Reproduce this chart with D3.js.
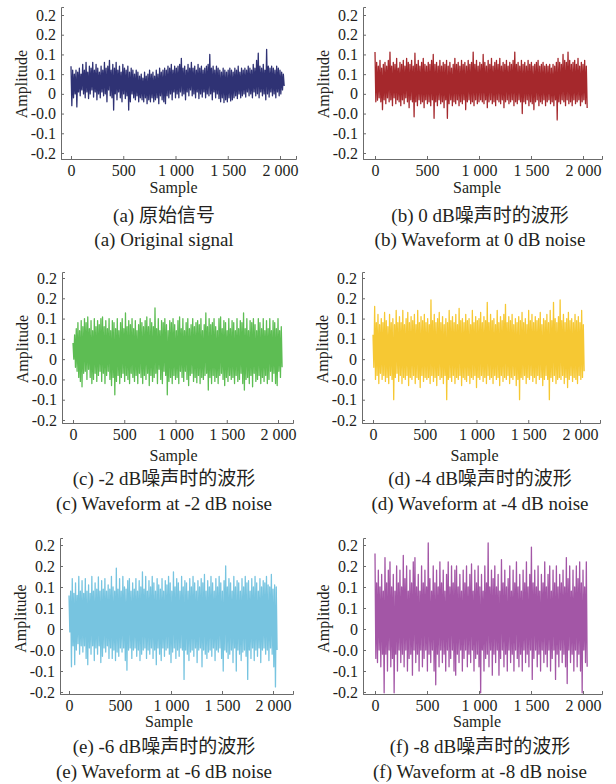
<!DOCTYPE html>
<html>
<head>
<meta charset="utf-8">
<script src="https://cdn.jsdelivr.net/npm/d3@7/dist/d3.min.js"></script>
<style>
  body { margin: 0; background: #fff; }
  .axis path, .axis line { stroke: #6b6b6b; stroke-width: 1; }
</style>
</head>
<body>
<div id="chart"></div>
<script>
// one value every 8 samples
var sampleStep = 8;

var sigOriginal = [
  0.07,-0.03,0.06,-0.01,0.05,0.0,0.06,-0.033,0.055,0.005,0.065,-0.005,0.05,0.01,0.075,0.0,
  0.06,-0.01,0.08,0.005,0.055,-0.012,0.07,0.0,0.065,0.01,0.08,-0.008,0.06,0.005,0.075,-0.015,
  0.065,0.0,0.055,-0.01,0.07,0.005,0.06,-0.005,0.08,0.0,0.065,-0.02,0.07,0.01,0.085,-0.005,
  0.06,-0.01,0.075,-0.041,0.065,0.0,0.08,-0.015,0.06,0.005,0.07,-0.01,0.055,-0.02,0.075,0.0,
  0.065,-0.012,0.06,-0.005,0.07,-0.041,0.055,-0.02,0.065,0.0,0.06,-0.01,0.05,-0.015,0.06,-0.005,
  0.055,-0.02,0.045,-0.01,0.05,-0.015,0.04,-0.02,0.055,-0.01,0.045,-0.025,0.05,-0.015,0.06,-0.02,
  0.05,-0.01,0.055,-0.02,0.045,-0.015,0.06,-0.01,0.05,-0.025,0.065,-0.005,0.055,-0.015,0.06,-0.02,
  0.065,-0.025,0.06,-0.005,0.07,-0.01,0.065,0.0,0.075,-0.015,0.06,0.005,0.07,-0.01,0.065,0.0,
  0.07,-0.01,0.075,0.005,0.09,-0.005,0.065,0.0,0.07,-0.015,0.06,0.005,0.075,-0.005,0.065,0.01,
  0.08,-0.005,0.065,0.0,0.07,-0.01,0.06,0.005,0.075,-0.012,0.065,0.0,0.07,-0.008,0.06,0.005,
  0.065,-0.01,0.07,0.0,0.075,-0.005,0.1,0.0,0.065,-0.015,0.07,0.005,0.06,-0.01,0.07,0.0,
  0.065,-0.012,0.06,-0.02,0.055,-0.01,0.065,-0.022,0.06,-0.015,0.055,-0.02,0.06,-0.01,0.065,-0.018,
  0.06,-0.015,0.055,-0.01,0.065,-0.005,0.06,-0.012,0.07,0.0,0.055,-0.01,0.065,-0.005,0.06,0.0,
  0.065,-0.008,0.06,0.005,0.07,-0.005,0.065,0.0,0.06,-0.01,0.075,0.005,0.065,-0.005,0.085,0.0,
  0.103,-0.01,0.07,0.005,0.065,-0.005,0.075,0.0,0.06,-0.015,0.113,0.0,0.07,-0.008,0.065,0.005,
  0.07,-0.005,0.065,0.0,0.06,-0.01,0.07,0.005,0.065,-0.005,0.06,0.0,0.055,0.01,0.05,0.02
];

var sig0dB = [
  0.106,-0.02,0.08,-0.016,0.07,-0.01,0.085,-0.02,0.065,-0.04,0.075,-0.015,0.08,-0.025,0.07,-0.01,
  0.085,-0.02,0.106,-0.015,0.07,-0.03,0.08,-0.01,0.075,-0.025,0.09,-0.015,0.065,-0.02,0.08,-0.03,
  0.075,-0.015,0.085,-0.025,0.07,-0.01,0.09,-0.02,0.08,-0.035,0.075,-0.015,0.085,-0.02,0.07,-0.058,
  0.103,-0.02,0.075,-0.03,0.085,-0.015,0.07,-0.025,0.08,-0.02,0.09,-0.035,0.075,-0.015,0.07,-0.025,
  0.08,-0.02,0.075,-0.03,0.085,-0.015,0.1,-0.062,0.075,-0.02,0.08,-0.03,0.07,-0.015,0.085,-0.025,
  0.07,-0.02,0.08,-0.035,0.075,-0.015,0.085,-0.062,0.07,-0.025,0.08,-0.015,0.065,-0.03,0.075,-0.02,
  0.09,-0.025,0.075,-0.015,0.08,-0.03,0.07,-0.02,0.085,-0.025,0.075,-0.015,0.08,-0.04,0.07,-0.02,
  0.085,-0.015,0.075,-0.025,0.08,-0.02,0.106,-0.03,0.075,-0.015,0.085,-0.025,0.07,-0.02,0.08,-0.015,
  0.075,-0.02,0.1,-0.025,0.08,-0.015,0.07,-0.035,0.085,-0.02,0.075,-0.015,0.09,-0.025,0.07,-0.02,
  0.08,-0.03,0.085,-0.015,0.075,-0.02,0.09,-0.025,0.07,-0.015,0.08,-0.035,0.075,-0.02,0.085,-0.015,
  0.07,-0.025,0.08,-0.02,0.075,-0.015,0.085,-0.03,0.106,-0.02,0.075,-0.025,0.08,-0.015,0.07,-0.02,
  0.085,-0.05,0.075,-0.02,0.08,-0.025,0.07,-0.015,0.085,-0.03,0.075,-0.02,0.08,-0.025,0.07,-0.04,
  0.075,-0.02,0.08,-0.015,0.085,-0.03,0.07,-0.02,0.075,-0.025,0.08,-0.015,0.07,-0.03,0.075,-0.02,
  0.07,-0.015,0.075,-0.025,0.065,-0.02,0.075,-0.03,0.07,-0.015,0.08,-0.066,0.09,-0.02,0.08,-0.025,
  0.075,-0.015,0.1,-0.02,0.085,-0.03,0.08,-0.015,0.106,-0.025,0.085,-0.02,0.075,-0.03,0.08,-0.015,
  0.085,-0.025,0.075,-0.02,0.09,-0.015,0.07,-0.03,0.08,-0.02,0.075,-0.015,0.085,-0.025,0.07,-0.036
];

var sigM2dB = [
  0.04,0.0,0.06,-0.02,0.075,-0.03,0.09,-0.045,0.07,-0.055,0.095,-0.068,0.08,-0.035,0.1,-0.03,
  0.09,-0.05,0.104,-0.025,0.075,-0.045,0.095,-0.06,0.07,-0.05,0.1,-0.035,0.08,-0.055,0.095,-0.04,
  0.085,-0.03,0.1,-0.055,0.104,-0.035,0.08,-0.06,0.095,-0.04,0.075,-0.03,0.1,-0.05,0.07,-0.065,
  0.095,-0.045,0.09,-0.088,0.075,-0.055,0.1,-0.04,0.07,-0.06,0.09,-0.045,0.1,-0.035,0.075,-0.055,
  0.114,-0.04,0.08,-0.05,0.095,-0.06,0.085,-0.035,0.1,-0.045,0.075,-0.055,0.095,-0.04,0.07,-0.06,
  0.085,-0.035,0.1,-0.045,0.09,-0.06,0.08,-0.04,0.095,-0.05,0.104,-0.035,0.08,-0.065,0.1,-0.04,
  0.09,-0.055,0.08,-0.045,0.126,-0.035,0.075,-0.06,0.1,-0.025,0.07,-0.05,0.095,-0.06,0.09,-0.03,
  0.1,-0.04,0.085,-0.088,0.07,-0.055,0.095,-0.045,0.09,-0.06,0.1,-0.04,0.085,-0.05,0.07,-0.045,
  0.095,-0.06,0.104,-0.03,0.075,-0.045,0.1,-0.055,0.07,-0.03,0.09,-0.05,0.1,-0.065,0.075,-0.04,
  0.085,-0.035,0.1,-0.055,0.08,-0.045,0.09,-0.058,0.095,-0.04,0.085,-0.06,0.1,-0.045,0.07,-0.05,
  0.085,-0.04,0.114,-0.035,0.08,-0.076,0.1,-0.045,0.085,-0.06,0.09,-0.04,0.1,-0.055,0.08,-0.045,
  0.07,-0.06,0.1,-0.04,0.104,-0.035,0.075,-0.05,0.095,-0.065,0.09,-0.045,0.07,-0.055,0.1,-0.04,
  0.075,-0.05,0.095,-0.045,0.09,-0.06,0.07,-0.04,0.1,-0.055,0.075,-0.05,0.095,-0.035,0.09,-0.06,
  0.114,-0.076,0.075,-0.05,0.1,-0.045,0.07,-0.06,0.095,-0.04,0.09,-0.068,0.1,-0.035,0.085,-0.055,
  0.07,-0.05,0.1,-0.04,0.09,-0.06,0.075,-0.045,0.1,-0.055,0.07,-0.04,0.095,-0.06,0.075,-0.05,
  0.1,-0.03,0.07,-0.055,0.095,-0.035,0.09,-0.06,0.075,-0.065,0.1,-0.03,0.07,-0.045,0.08,-0.02
];

var sigM4dB = [
  0.06,-0.02,0.13,-0.05,0.09,-0.04,0.11,-0.06,0.085,-0.035,0.1,-0.05,0.09,-0.04,0.115,-0.055,
  0.095,-0.045,0.08,-0.06,0.11,-0.04,0.09,-0.05,0.1,-0.1,0.085,-0.045,0.12,-0.035,0.09,-0.055,
  0.105,-0.04,0.09,-0.06,0.12,-0.045,0.085,-0.05,0.1,-0.04,0.115,-0.065,0.09,-0.045,0.105,-0.05,
  0.095,-0.04,0.11,-0.06,0.085,-0.045,0.12,-0.05,0.09,-0.07,0.105,-0.04,0.095,-0.055,0.11,-0.045,
  0.09,-0.05,0.1,-0.045,0.085,-0.06,0.146,-0.04,0.095,-0.055,0.11,-0.045,0.09,-0.065,0.1,-0.04,
  0.115,-0.05,0.09,-0.045,0.105,-0.06,0.085,-0.04,0.1,-0.1,0.09,-0.05,0.12,-0.045,0.095,-0.055,
  0.105,-0.04,0.09,-0.06,0.11,-0.045,0.085,-0.05,0.125,-0.04,0.095,-0.065,0.1,-0.045,0.09,-0.05,
  0.11,-0.055,0.095,-0.04,0.1,-0.06,0.085,-0.045,0.12,-0.05,0.09,-0.04,0.105,-0.07,0.095,-0.045,
  0.1,-0.05,0.115,-0.04,0.09,-0.055,0.105,-0.045,0.095,-0.06,0.14,-0.04,0.09,-0.05,0.11,-0.045,
  0.095,-0.06,0.1,-0.04,0.085,-0.05,0.12,-0.045,0.09,-0.065,0.105,-0.04,0.095,-0.055,0.11,-0.045,
  0.135,-0.05,0.09,-0.04,0.105,-0.06,0.095,-0.045,0.11,-0.05,0.085,-0.04,0.1,-0.065,0.09,-0.05,
  0.105,-0.1,0.095,-0.045,0.115,-0.05,0.09,-0.04,0.1,-0.06,0.085,-0.045,0.12,-0.05,0.095,-0.04,
  0.11,-0.055,0.09,-0.045,0.105,-0.06,0.095,-0.04,0.1,-0.05,0.115,-0.045,0.085,-0.065,0.1,-0.05,
  0.095,-0.04,0.11,-0.05,0.09,-0.1,0.12,-0.045,0.095,-0.055,0.14,-0.04,0.1,-0.06,0.09,-0.05,
  0.105,-0.045,0.146,-0.05,0.095,-0.04,0.11,-0.06,0.09,-0.045,0.1,-0.07,0.115,-0.05,0.095,-0.04,
  0.1,-0.055,0.09,-0.045,0.11,-0.05,0.095,-0.06,0.105,-0.04,0.09,-0.05,0.12,-0.045,0.085,-0.03
];

var sigM6dB = [
  0.08,-0.007,0.09,-0.09,0.12,-0.04,0.085,-0.085,0.11,-0.05,0.08,-0.035,0.125,-0.06,0.09,-0.04,
  0.115,-0.055,0.085,-0.04,0.12,-0.07,0.09,-0.085,0.105,-0.045,0.085,-0.06,0.125,-0.04,0.09,-0.075,
  0.11,-0.045,0.095,-0.06,0.124,-0.04,0.09,-0.08,0.115,-0.065,0.095,-0.045,0.12,-0.055,0.09,-0.04,
  0.105,-0.07,0.095,-0.045,0.125,-0.07,0.1,-0.05,0.09,-0.075,0.145,-0.055,0.095,-0.065,0.12,-0.045,
  0.09,-0.055,0.125,-0.045,0.1,-0.075,0.095,-0.098,0.115,-0.05,0.12,-0.045,0.09,-0.07,0.11,-0.05,
  0.095,-0.045,0.12,-0.065,0.09,-0.05,0.115,-0.075,0.1,-0.06,0.136,-0.05,0.095,-0.045,0.125,-0.07,
  0.09,-0.05,0.115,-0.06,0.1,-0.045,0.125,-0.07,0.11,-0.05,0.09,-0.085,0.12,-0.045,0.105,-0.06,
  0.095,-0.075,0.12,-0.045,0.09,-0.065,0.115,-0.05,0.105,-0.045,0.125,-0.06,0.11,-0.08,0.09,-0.055,
  0.136,-0.045,0.1,-0.07,0.12,-0.05,0.11,-0.065,0.09,-0.045,0.125,-0.05,0.1,-0.12,0.115,-0.05,
  0.11,-0.06,0.09,-0.075,0.12,-0.055,0.1,-0.05,0.125,-0.065,0.11,-0.045,0.09,-0.08,0.115,-0.05,
  0.1,-0.045,0.12,-0.09,0.11,-0.05,0.13,-0.06,0.09,-0.07,0.115,-0.055,0.1,-0.05,0.125,-0.065,
  0.11,-0.045,0.09,-0.075,0.12,-0.05,0.1,-0.055,0.125,-0.045,0.11,-0.07,0.09,-0.1,0.115,-0.05,
  0.15,-0.055,0.1,-0.07,0.12,-0.06,0.11,-0.05,0.09,-0.08,0.125,-0.045,0.1,-0.1,0.115,-0.05,
  0.11,-0.06,0.09,-0.075,0.12,-0.055,0.1,-0.05,0.125,-0.065,0.11,-0.12,0.115,-0.05,0.09,-0.07,
  0.12,-0.045,0.1,-0.075,0.125,-0.05,0.11,-0.065,0.09,-0.045,0.12,-0.08,0.1,-0.05,0.115,-0.045,
  0.11,-0.06,0.125,-0.05,0.105,-0.075,0.1,-0.045,0.13,-0.06,0.095,-0.09,0.105,-0.138,0.1,-0.05
];

var sigM8dB = [
  0.18,-0.07,0.11,-0.08,0.14,-0.05,0.1,-0.09,0.13,-0.06,0.09,-0.152,0.17,-0.06,0.11,-0.1,
  0.14,-0.05,0.16,-0.09,0.1,-0.07,0.13,-0.152,0.09,-0.06,0.15,-0.1,0.11,-0.05,0.14,-0.08,
  0.1,-0.06,0.175,-0.09,0.12,-0.05,0.15,-0.1,0.09,-0.07,0.14,-0.06,0.11,-0.11,0.16,-0.05,
  0.17,-0.08,0.1,-0.06,0.13,-0.1,0.09,-0.05,0.15,-0.09,0.11,-0.07,0.14,-0.05,0.1,-0.1,
  0.205,-0.06,0.12,-0.08,0.09,-0.05,0.15,-0.1,0.11,-0.133,0.14,-0.06,0.1,-0.09,0.16,-0.05,
  0.11,-0.08,0.14,-0.06,0.09,-0.1,0.13,-0.05,0.16,-0.09,0.1,-0.07,0.15,-0.05,0.11,-0.1,
  0.14,-0.11,0.15,-0.06,0.1,-0.08,0.13,-0.05,0.09,-0.1,0.14,-0.07,0.11,-0.05,0.15,-0.09,
  0.1,-0.06,0.13,-0.08,0.155,-0.05,0.09,-0.1,0.14,-0.07,0.11,-0.06,0.15,-0.09,0.1,-0.152,
  0.13,-0.05,0.09,-0.1,0.15,-0.07,0.11,-0.06,0.205,-0.09,0.1,-0.05,0.14,-0.11,0.12,-0.06,
  0.15,-0.08,0.1,-0.05,0.13,-0.11,0.09,-0.07,0.165,-0.05,0.11,-0.09,0.14,-0.06,0.1,-0.1,
  0.12,-0.05,0.15,-0.08,0.09,-0.06,0.14,-0.1,0.11,-0.05,0.16,-0.07,0.1,-0.09,0.13,-0.06,
  0.09,-0.1,0.14,-0.05,0.11,-0.08,0.16,-0.06,0.1,-0.09,0.13,-0.05,0.195,-0.12,0.11,-0.07,
  0.14,-0.05,0.1,-0.09,0.15,-0.06,0.09,-0.1,0.13,-0.05,0.11,-0.08,0.16,-0.06,0.1,-0.09,
  0.13,-0.05,0.15,-0.1,0.09,-0.07,0.14,-0.05,0.11,-0.12,0.15,-0.06,0.1,-0.09,0.13,-0.05,
  0.11,-0.08,0.14,-0.06,0.1,-0.09,0.17,-0.13,0.12,-0.05,0.15,-0.08,0.09,-0.06,0.14,-0.1,
  0.1,-0.05,0.15,-0.09,0.12,-0.06,0.16,-0.1,0.11,-0.152,0.14,-0.05,0.1,-0.08,0.16,-0.09
];

var signals = [sigOriginal, sig0dB, sigM2dB, sigM4dB, sigM6dB, sigM8dB];
var lineColors = ["#2f3274", "#a5282c", "#5dbd53", "#f6c833", "#77c4e0", "#a356a6"];

var yTickValues = [0.2, 0.15, 0.1, 0.05, 0, -0.05, -0.1, -0.15];
var yTickLabels = ["0.2", "0.2", "0.1", "0.1", "0", "-0.0", "-0.1", "-0.2"];
var xTickValues = [0, 500, 1000, 1500, 2000];
var xTickLabels = ["0", "500", "1 000", "1 500", "2 000"];

var captionsCn = ["(a) 原始信号", "(b) 0 dB噪声时的波形", "(c) -2 dB噪声时的波形",
                  "(d) -4 dB噪声时的波形", "(e) -6 dB噪声时的波形", "(f) -8 dB噪声时的波形"];
var captionsEn = ["(a) Original signal", "(b) Waveform at 0 dB noise", "(c) Waveform at -2 dB noise",
                  "(d) Waveform at -4 dB noise", "(e) Waveform at -6 dB noise", "(f) Waveform at -8 dB noise"];

var serif = "'Liberation Serif', 'Times New Roman', serif";
var serifCjk = "'Liberation Serif', 'Noto Sans CJK SC', serif";

// page layout (pixels), one entry per panel
var panels = [
  {axisX: 61,  x0: 71,  x2000: 280, right: 296, cap: 164},
  {axisX: 363, x0: 375, x2000: 583, right: 602, cap: 480},
  {axisX: 62,  x0: 73,  x2000: 278, right: 293, cap: 164},
  {axisX: 362, x0: 373, x2000: 580, right: 600, cap: 480},
  {axisX: 60,  x0: 69,  x2000: 273, right: 293, cap: 164},
  {axisX: 363, x0: 375, x2000: 583, right: 602, cap: 480}
];
var rows = [
  {top: 7, yHi: 15, yLo: 153, axisY: 159, sample: 193, cn: 222, en: 246},
  {top: 272, yHi: 278, yLo: 420, axisY: 423, sample: 461, cn: 485, en: 510},
  {top: 538, yHi: 545, yLo: 692, axisY: 694, sample: 727, cn: 753, en: 778}
];

var svg = d3.select("#chart").append("svg")
  .attr("width", 616).attr("height", 784);

signals.forEach(function(sig, k) {
  var row = rows[Math.floor(k / 2)];
  var p = panels[k];

  var x = d3.scaleLinear().domain([0, 2000]).range([p.x0, p.x2000]);
  x.domain([x.invert(p.axisX), x.invert(p.right)]).range([p.axisX, p.right]);

  var y = d3.scaleLinear().domain([-0.15, 0.2]).range([row.yLo, row.yHi]);
  y.domain([y.invert(row.axisY), y.invert(row.top)]).range([row.axisY, row.top]);

  var g = svg.append("g");

  g.append("path")
    .datum(sig)
    .attr("fill", "none")
    .attr("stroke", lineColors[k])
    .attr("stroke-width", 1.3)
    .attr("stroke-linejoin", "round")
    .attr("d", d3.line()
      .x(function(d, i) { return x(i * sampleStep); })
      .y(function(d) { return y(d); }));

  var yAxis = d3.axisLeft(y).tickValues(yTickValues)
    .tickFormat(function(d, i) { return yTickLabels[i]; })
    .tickSizeInner(-3).tickSizeOuter(-3).tickPadding(5);
  g.append("g").attr("class", "axis")
    .attr("transform", "translate(" + p.axisX + ",0)")
    .call(yAxis);

  var xAxis = d3.axisBottom(x).tickValues(xTickValues)
    .tickFormat(function(d, i) { return xTickLabels[i]; })
    .tickSizeInner(-3).tickSizeOuter(-3).tickPadding(6);
  g.append("g").attr("class", "axis")
    .attr("transform", "translate(0," + row.axisY + ")")
    .call(xAxis);

  g.selectAll(".axis").attr("font-family", serif).attr("font-size", 16);
  g.selectAll(".axis text").attr("fill", "#231f20");

  g.append("text").text("Amplitude")
    .attr("transform", "translate(" + (p.axisX - 40) + "," + ((row.yHi + row.yLo) / 2) + ") rotate(-90)")
    .attr("dy", "0.35em")
    .attr("fill", "#231f20")
    .style("font-family", serif)
    .style("text-anchor", "middle").style("font-size", "16px");

  g.append("text").text("Sample")
    .attr("x", x(1000) - 2).attr("y", row.sample)
    .attr("fill", "#231f20")
    .style("font-family", serif)
    .style("text-anchor", "middle").style("font-size", "16px");

  g.append("text").text(captionsCn[k])
    .attr("x", p.cap).attr("y", row.cn)
    .attr("fill", "#231f20")
    .style("font-family", serifCjk)
    .style("text-anchor", "middle").style("font-size", "19px");

  g.append("text").text(captionsEn[k])
    .attr("x", p.cap).attr("y", row.en)
    .attr("fill", "#231f20")
    .style("font-family", serif)
    .style("text-anchor", "middle").style("font-size", "19px");
});
</script>
</body>
</html>
